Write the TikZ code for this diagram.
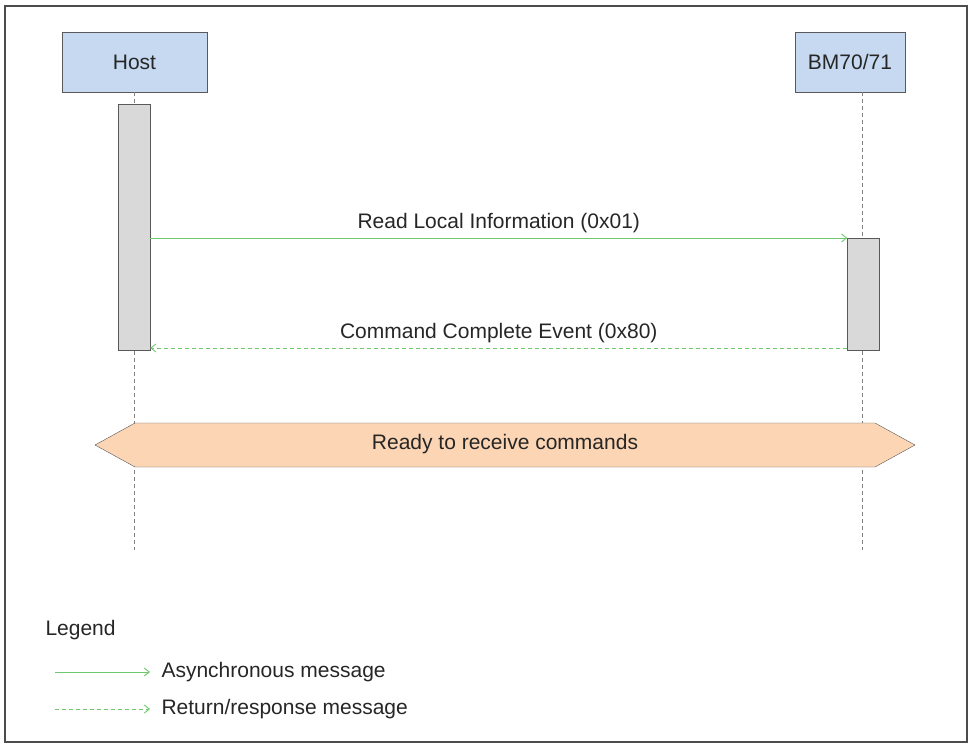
\documentclass[tikz,border=0pt]{standalone}
\usepackage{fontspec}
\setmainfont{Liberation Sans}
\usetikzlibrary{arrows.meta}
\definecolor{boxblue}{RGB}{198,217,240}
\definecolor{actgray}{RGB}{217,217,217}
\definecolor{msggreen}{RGB}{110,200,110}
\definecolor{hexfill}{RGB}{252,213,180}
\begin{document}
\begin{tikzpicture}[x=1pt,y=-1pt,
  every node/.style={font=\fontsize{21}{24}\selectfont, text=black!85},
  actor/.style={draw=gray!70!black, fill=boxblue, minimum width=145pt, minimum height=60pt, inner sep=0pt},
  act/.style={draw=gray!70!black, fill=actgray, inner sep=0pt, minimum width=32pt},
  life/.style={draw=gray, dashed, dash pattern=on 4pt off 3pt},
  async/.style={draw=msggreen, line width=0.9pt, -{Straight Barb[length=5pt,width=8pt]}},
  ret/.style={draw=msggreen, line width=0.9pt, dash pattern=on 4pt off 3pt, -{Straight Barb[length=5pt,width=8pt]}}]
\useasboundingbox (0,0) rectangle (970,754);
\draw[gray!60!black, line width=1.2pt] (5,6) rectangle (967,742);
\node[actor] (host) at (134.5,62) {Host};
\node[actor, minimum width=110pt] (bm) at (850,62) {BM70/71};
\coordinate (hend) at (134,550);
\coordinate (bend) at (862,550);
\draw[life] (134,92) -- (hend);
\draw[life] (862,92) -- (bend);
\node[act, minimum height=246pt] (ha) at (134,227) {};
\node[act, minimum height=112pt] (ba) at (863.5,294) {};
\coordinate (a1) at (ha.east |- 0,238);
\coordinate (b1) at (ba.west |- 0,238);
\draw[async] (a1) -- node[above=1pt] {Read Local Information (0x01)} (b1);
\coordinate (a2) at (ha.east |- 0,348);
\coordinate (b2) at (ba.west |- 0,348);
\draw[ret] (b2) -- node[above=1pt] {Command Complete Event (0x80)} (a2);
\draw[gray!70!black, fill=hexfill] (95,445) -- (135,423) -- (875,423) -- (915,445) -- (875,467) -- (135,467) -- cycle;
\node (ready) at (505,444) {Ready to receive commands};
\node[anchor=west] (leg) at (42,630) {Legend};
\coordinate (l1a) at (55,672); \coordinate (l1b) at (150,672);
\coordinate (l2a) at (55,709); \coordinate (l2b) at (150,709);
\draw[async] (l1a) -- (l1b);
\draw[ret] (l2a) -- (l2b);
\node[anchor=west] (t1) at (158,672) {Asynchronous message};
\node[anchor=west] (t2) at (158,709) {Return/response message};
\end{tikzpicture}
\end{document}
